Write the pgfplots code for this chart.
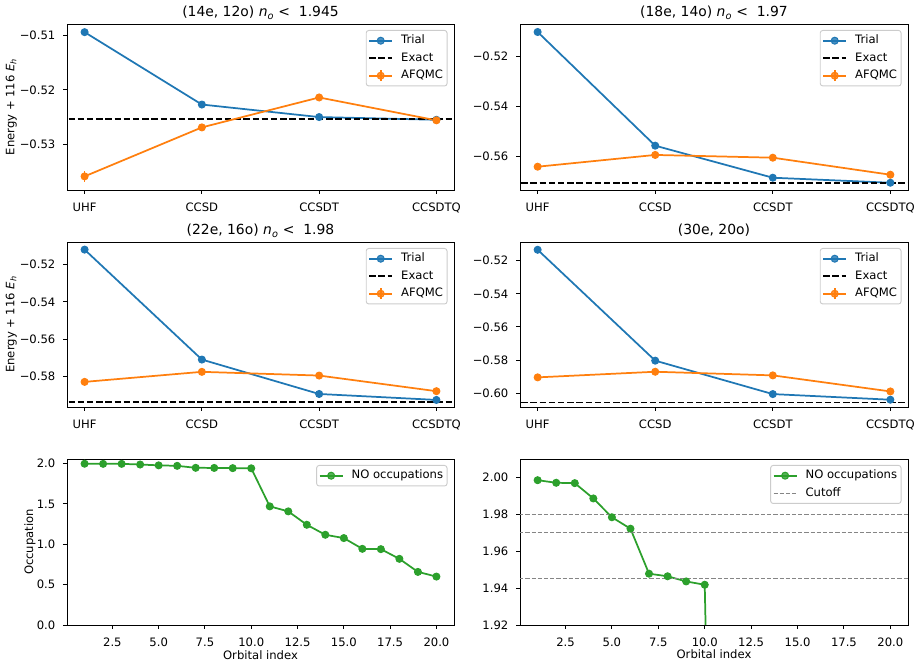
\documentclass[border=0pt]{standalone}
\usepackage{pgfplots}
\pgfplotsset{compat=1.18}
\usepackage{fontspec}
\setmainfont{DejaVu Sans}

\definecolor{tblue}{HTML}{1F77B4}
\definecolor{torange}{HTML}{FF7F0E}
\definecolor{tgreen}{HTML}{2CA02C}
\definecolor{legframe}{HTML}{CCCCCC}
\definecolor{cutgray}{HTML}{858585}

\newcommand\fs{\fontsize{11.6pt}{13.9pt}\selectfont}
\newcommand\fst{\fontsize{13.9pt}{16.7pt}\selectfont}

% energies (Hartree, shifted by +116) per active space
\pgfplotstableread{
x  trial    afqmc    err
0  -0.5094  -0.5359  0.0010
1  -0.5227  -0.5269  0.0004
2  -0.5250  -0.5214  0.0004
3  -0.5255  -0.5256  0.0004
}\dataA
\pgfplotstableread{
x  trial    afqmc    err
0  -0.5102  -0.5640  0.0006
1  -0.5556  -0.5593  0.0006
2  -0.5684  -0.5604  0.0006
3  -0.5704  -0.5672  0.0006
}\dataB
\pgfplotstableread{
x  trial    afqmc    err
0  -0.5119  -0.5830  0.0006
1  -0.5710  -0.5776  0.0006
2  -0.5895  -0.5796  0.0006
3  -0.5927  -0.5880  0.0006
}\dataC
\pgfplotstableread{
x  trial    afqmc    err
0  -0.5134  -0.5905  0.0006
1  -0.5804  -0.5871  0.0006
2  -0.6006  -0.5893  0.0006
3  -0.6040  -0.5990  0.0006
}\dataD
% natural-orbital occupations
\pgfplotstableread{
i   occ
1   1.9985
2   1.9971
3   1.9969
4   1.9886
5   1.9784
6   1.9722
7   1.9478
8   1.9464
9   1.9436
10  1.9418
11  1.470
12  1.408
13  1.242
14  1.118
15  1.077
16  0.944
17  0.940
18  0.820
19  0.658
20  0.600
}\occdata

\pgfplotsset{
  mpl/.style={
    scale only axis,
    anchor=south west,
    axis line style={line width=0.93pt, black},
    tick align=outside,
    tick pos=left,
    major tick length=4pt,
    every tick/.style={black, line width=0.93pt},
    tick label style={font=\fs},
    label style={font=\fs},
    xticklabel style={anchor=base, yshift=-17.3pt},
    yticklabel style={anchor=east, inner sep=0pt, xshift=-7.5pt},
    title style={font=\fst, at={(axis description cs:0.5,1)}, anchor=base, yshift=1pt},
    ylabel style={anchor=center},
    xlabel style={at={(axis description cs:0.5,0)}, anchor=base, yshift=-34pt},
    legend style={
      at={(rel axis cs:1,1)}, anchor=north east,
      xshift=-6.5pt, yshift=-6pt,
      draw=legframe, line width=0.93pt, rounded corners=2.5pt,
      fill=white, fill opacity=0.8, text opacity=1, draw opacity=1,
      font=\fs, cells={anchor=west},
      inner xsep=2pt, inner ysep=2.5pt,
      row sep=2pt,
      nodes={inner sep=2pt, text height=9pt, text depth=2.5pt},
      /tikz/every odd column/.append style={column sep=6pt},
    },
    legend image code/.code={
      \draw[mark repeat=2,mark phase=2,##1] plot coordinates {(0pt,0pt)(11.6pt,0pt)(23.2pt,0pt)};},
  },
  cat/.style={
    xmin=-0.15, xmax=3.15,
    xtick={0,1,2,3},
    xticklabels={UHF,CCSD,CCSDT,CCSDTQ},
  },
  trial/.style={tblue, line width=1.74pt, mark=*, mark size=3.5pt,
    mark options={solid, line width=1pt}},
  exact/.style={black, line width=1.74pt, dash pattern=on 6.4pt off 2.8pt},
  afqmc/.style={torange, line width=1.74pt, mark=*, mark size=3.5pt,
    mark options={solid, line width=1pt},
    legend image code/.code={
      \draw[##1] (11.6pt,-5.5pt) -- (11.6pt,5.5pt);
      \draw[mark repeat=2,mark phase=2,##1] plot coordinates {(0pt,0pt)(11.6pt,0pt)(23.2pt,0pt)};},
    error bars/.cd, y dir=both, y explicit, error mark=none,
    error bar style={line width=1.74pt, torange, solid}},
  occ/.style={tgreen, line width=1.74pt, mark=*, mark size=3.5pt,
    mark options={solid, line width=1pt}},
  cut/.style={cutgray, line width=1.16pt, dash pattern=on 4.3pt off 1.9pt},
}

\begin{document}
\fs
\begin{tikzpicture}
\path[use as bounding box] (0,0) rectangle (920pt,666pt);

% (14e, 12o)
\begin{axis}[mpl, cat, at={(67pt,476pt)}, width=387pt, height=166pt,
  ymin=-0.5384, ymax=-0.5079,
  ytick={-0.53,-0.52,-0.51}, yticklabels={−0.53,−0.52,−0.51},
  ylabel={Energy + 116 \textit{E}\textsubscript{\textit{h}}},
  ylabel style={at={(axis description cs:-0.1442,0.5)}},
  title={(14e, 12o) \textit{n}\textsubscript{\textit{o}} <\ \ 1.945}]
\addplot[trial] table[x=x, y=trial] {\dataA};
\addlegendentry{Trial}
\addplot[exact] coordinates {(-1,-0.5253) (4,-0.5253)};
\addlegendentry{Exact}
\addplot[afqmc] table[x=x, y=afqmc, y error=err] {\dataA};
\addlegendentry{AFQMC}
\end{axis}

% (18e, 14o)
\begin{axis}[mpl, cat, at={(520pt,476pt)}, width=388pt, height=166pt,
  ymin=-0.5733, ymax=-0.5070,
  ytick={-0.56,-0.54,-0.52}, yticklabels={−0.56,−0.54,−0.52},
  title={(18e, 14o) \textit{n}\textsubscript{\textit{o}} <\ \ 1.97}]
\addplot[trial] table[x=x, y=trial] {\dataB};
\addlegendentry{Trial}
\addplot[exact] coordinates {(-1,-0.5704) (4,-0.5704)};
\addlegendentry{Exact}
\addplot[afqmc] table[x=x, y=afqmc, y error=err] {\dataB};
\addlegendentry{AFQMC}
\end{axis}

% (22e, 16o)
\begin{axis}[mpl, cat, at={(67pt,259pt)}, width=387pt, height=165pt,
  ymin=-0.5965, ymax=-0.5078,
  ytick={-0.58,-0.56,-0.54,-0.52}, yticklabels={−0.58,−0.56,−0.54,−0.52},
  ylabel={Energy + 116 \textit{E}\textsubscript{\textit{h}}},
  ylabel style={at={(axis description cs:-0.1442,0.5)}},
  title={(22e, 16o) \textit{n}\textsubscript{\textit{o}} <\ \ 1.98}]
\addplot[trial] table[x=x, y=trial] {\dataC};
\addlegendentry{Trial}
\addplot[exact] coordinates {(-1,-0.5940) (4,-0.5940)};
\addlegendentry{Exact}
\addplot[afqmc] table[x=x, y=afqmc, y error=err] {\dataC};
\addlegendentry{AFQMC}
\end{axis}

% (30e, 20o)
\begin{axis}[mpl, cat, at={(520pt,259pt)}, width=388pt, height=165pt,
  ymin=-0.6084, ymax=-0.5087,
  ytick={-0.60,-0.58,-0.56,-0.54,-0.52}, yticklabels={−0.60,−0.58,−0.56,−0.54,−0.52},
  title={(30e, 20o)}]
\addplot[trial] table[x=x, y=trial] {\dataD};
\addlegendentry{Trial}
\addplot[exact] coordinates {(-1,-0.6057) (4,-0.6057)};
\addlegendentry{Exact}
\addplot[afqmc] table[x=x, y=afqmc, y error=err] {\dataD};
\addlegendentry{AFQMC}
\end{axis}

% occupations, full range
\begin{axis}[mpl, at={(67pt,41pt)}, width=387pt, height=166pt,
  xmin=0.05, xmax=20.95, ymin=0, ymax=2.057,
  xtick={2.5,5,7.5,10,12.5,15,17.5,20},
  xticklabels={2.5,5.0,7.5,10.0,12.5,15.0,17.5,20.0},
  ytick={0,0.5,1,1.5,2}, yticklabels={0.0,0.5,1.0,1.5,2.0},
  xlabel={Orbital index}, ylabel={Occupation},
  ylabel style={at={(axis description cs:-0.0956,0.5)}}]
\addplot[occ] table[x=i, y=occ] {\occdata};
\addlegendentry{NO occupations}
\end{axis}

% occupations near 2 with cutoffs
\begin{axis}[mpl, at={(520pt,41pt)}, width=388pt, height=166pt,
  xmin=0.05, xmax=20.95, ymin=1.92, ymax=2.01,
  xtick={2.5,5,7.5,10,12.5,15,17.5,20},
  xticklabels={2.5,5.0,7.5,10.0,12.5,15.0,17.5,20.0},
  ytick={1.92,1.94,1.96,1.98,2.00}, yticklabels={1.92,1.94,1.96,1.98,2.00},
  xlabel={Orbital index}]
\addplot[occ] table[x=i, y=occ] {\occdata};
\addlegendentry{NO occupations}
\addplot[cut] coordinates {(-1,1.98) (22,1.98)};
\addlegendentry{Cutoff}
\addplot[cut, forget plot] coordinates {(-1,1.97) (22,1.97)};
\addplot[cut, forget plot] coordinates {(-1,1.945) (22,1.945)};
\end{axis}
\end{tikzpicture}
\end{document}
